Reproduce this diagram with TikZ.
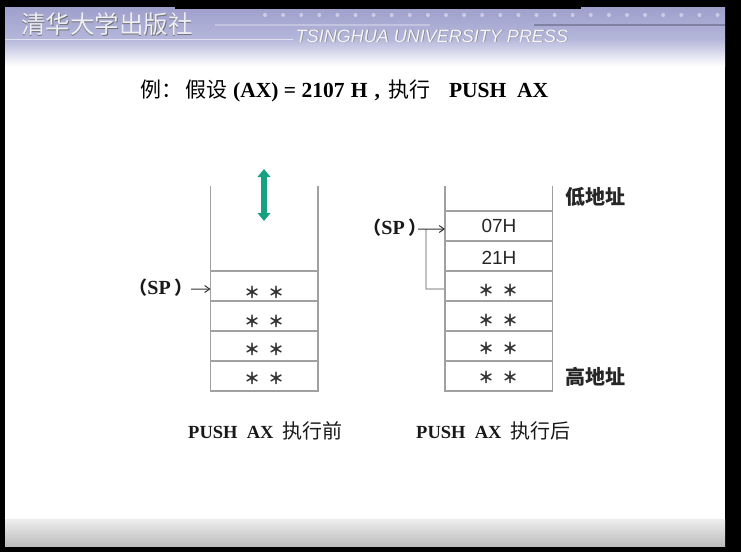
\documentclass[tikz,border=0pt]{standalone}
\usepackage{fontspec}
\setmainfont{Liberation Serif}
\newfontfamily\cjk{Noto Sans CJK SC}
\newfontfamily\hds{Liberation Sans}
\usetikzlibrary{arrows.meta,calc}
\definecolor{lavA}{RGB}{158,160,204}
\definecolor{lavB}{RGB}{180,182,218}
\definecolor{lineC}{RGB}{160,160,160}
\definecolor{teal1}{RGB}{24,160,130}
\newcommand{\spl}{{\cjk\fontsize{18}{20}\selectfont （}SP\kern4pt{\cjk\fontsize{18}{20}\selectfont ）}}
\tikzset{
 x=1pt,y=-1pt,
 cell/.style={draw=lineC,line width=1.3pt,minimum width=107.5pt,minimum height=30pt,inner sep=0pt,outer sep=0pt,anchor=north west},
 wall/.style={draw=lineC,line width=1.3pt},
 stars/.style={inner sep=0pt,font=\cjk\bfseries\fontsize{16}{16}\selectfont,text=black!80},
 val/.style={inner sep=0pt,font=\hds\fontsize{19}{19}\selectfont,text=black!85},
 lab/.style={inner sep=0pt,font=\bfseries\fontsize{20}{20}\selectfont,text=black!90},
 caplabel/.style={inner sep=0pt,font=\bfseries\fontsize{18.5}{20}\selectfont,text=black!90},
 addr/.style={inner sep=0pt,font=\cjk\bfseries\fontsize{20}{20}\selectfont,text=black!85},
 ptr/.style={-{Straight Barb[length=5pt,width=7pt]},line width=1pt,black!80},
}
\begin{document}
\begin{tikzpicture}
\useasboundingbox (0,0) rectangle (741,552);
\fill[black] (0,0) rectangle (741,552);
\fill[white] (5,7) rectangle (725,546);
% header
\shade[top color=lavA,bottom color=lavB] (5,7) rectangle (725,39);
\shade[top color=lavB,bottom color=white] (5,39) rectangle (725,66);
\fill[black] (175,0) rectangle (581,8.5);
\fill[white,opacity=.6] (5,38.5) rectangle (293,40);
\fill[white,opacity=.3] (215,24) rectangle (430,25.5);
\fill[lavA!70!black,opacity=.7] (534,24) rectangle (725,26);
\foreach \i in {0,...,25} \fill[white,opacity=.45] (265+\i*18.1,15) circle (2);
\node[inner sep=0pt,text=black!55] at (107.7,25) {\cjk\fontsize{24.5}{25}\selectfont 清华大学出版社};
\node[inner sep=0pt,text=white!82!lavA] (pub) at (107,24) {\cjk\fontsize{24.5}{25}\selectfont 清华大学出版社};
\node[inner sep=0pt,text=black!50] at (432.7,36.7) {\hds\itshape\fontsize{18}{18}\selectfont TSINGHUA UNIVERSITY PRESS};
\node[inner sep=0pt,text=white!92!lavA] (tup) at (432,36) {\hds\itshape\fontsize{18}{18}\selectfont TSINGHUA UNIVERSITY PRESS};
% footer
\shade[top color=black!7,bottom color=black!26] (5,519) rectangle (725,546);
% title
\node[inner sep=0pt,anchor=west,font=\bfseries\fontsize{21.5}{23}\selectfont] (title) at (140,91)
 {{\cjk\mdseries\fontsize{21}{23}\selectfont 例：\kern3pt 假设}\kern6pt(AX) = 2107\kern1pt\ H\kern7pt,\kern8pt{\cjk\mdseries\fontsize{21}{23}\selectfont 执行}\kern19pt PUSH\ \ AX};
% left stack
\foreach \n/\y in {a1/271,a2/301,a3/331,a4/361} \node[cell] (\n) at (210.5,\y) {};
\coordinate (atl) at (210.5,186); \coordinate (atr) at (318,186);
\draw[wall] (atl) -- (a1.north west);
\draw[wall] (atr) -- (a1.north east);
\foreach \y in {292,321,349,378} {
 \node[stars] at (252,\y) {＊}; \node[stars] at (276,\y) {＊};
}
% green arrow
\coordinate (gt) at (264,169); \coordinate (gb) at (264,221);
\draw[teal1,line width=5.5pt,{Triangle[length=8pt,width=12.5pt]}-{Triangle[length=8pt,width=12.5pt]}] (gt) -- (gb);
\node[lab,anchor=east] (spa) at (193,288) {\spl};
\draw[ptr] ($(spa.east)+(-2,1)$) -- ($(a1.north west)!.6!(a1.south west)$);
% right stack
\foreach \n/\y in {b1/211,b2/241,b3/271,b4/301,b5/331,b6/361} \node[cell] (\n) at (445,\y) {};
\coordinate (btl) at (445,186); \coordinate (btr) at (552.5,186);
\draw[wall] (btl) -- (b1.north west);
\draw[wall] (btr) -- (b1.north east);
\node[val] at (499,226) {07H};
\node[val] at (499,258) {21H};
\foreach \y in {290,320,348,377} {
 \node[stars] at (486,\y) {＊}; \node[stars] at (510,\y) {＊};
}
\node[lab,anchor=east] (spb) at (427,228) {\spl};
\coordinate (bk) at (426,289);
\draw[wall] ($(b3.north west)!.6!(b3.south west)$) -- (bk) -- (426,229);
\draw[ptr] ($(spb.east)+(-9,1)$) -- ($(b1.north west)!.6!(b1.south west)$);
\node[addr] (lo) at (595,197) {低地址};
\node[addr] (hi) at (595,377) {高地址};
\node[caplabel,anchor=west] (capa) at (188,431) {PUSH\ \ AX\kern9pt{\cjk\mdseries\fontsize{20}{20}\selectfont 执行前}};
\node[caplabel,anchor=west] (capb) at (416,431) {PUSH\ \ AX\kern9pt{\cjk\mdseries\fontsize{20}{20}\selectfont 执行后}};
\end{tikzpicture}
\end{document}
